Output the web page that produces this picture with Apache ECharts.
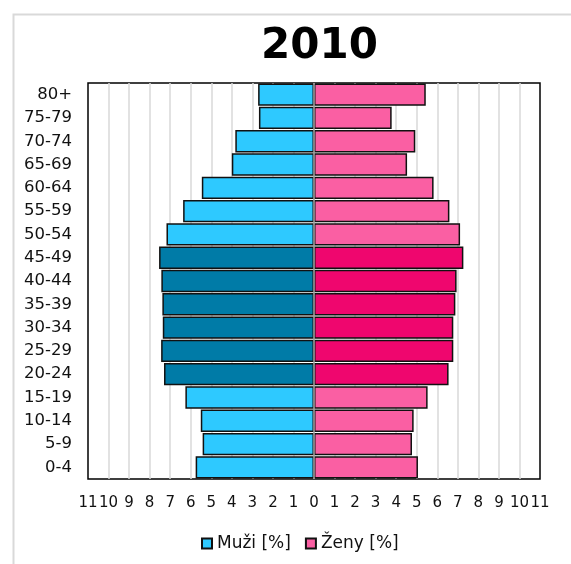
<!DOCTYPE html>
<html>
<head>
<meta charset="utf-8">
<script src="https://cdn.jsdelivr.net/npm/echarts@6/dist/echarts.min.js"></script>
<style>html,body{margin:0;padding:0;background:#fff}#c{width:571px;height:564px}</style>
</head>
<body>
<div id="c"></div>
<script>
var titleText = '2010';
var categories = ['0-4','5-9','10-14','15-19','20-24','25-29','30-34','35-39','40-44','45-49','50-54','55-59','60-64','65-69','70-74','75-79','80+'];
var men = [5.76,5.42,5.51,6.26,7.30,7.44,7.36,7.38,7.43,7.54,7.18,6.37,5.46,4.00,3.83,2.68,2.72];
var women = [5.06,4.77,4.85,5.53,6.55,6.78,6.78,6.88,6.94,7.27,7.11,6.59,5.82,4.53,4.93,3.78,5.44];
var highlighted = ['20-24','25-29','30-34','35-39','40-44','45-49'];
var seriesNames = ['Muži [%]','Ženy [%]'];
var axisMax = 11;

var FONT = 'DejaVu Sans';
var menLight = '#2EC9FF', menDark = '#007BA7';
var womenLight = '#FA5FA3', womenDark = '#EF066E';

function build(vals, sign, light, dark){
  return vals.map(function(v,i){
    var hi = highlighted.indexOf(categories[i]) >= 0;
    return {value: sign*v, itemStyle:{color: hi ? dark : light}};
  });
}

var chart = echarts.init(document.getElementById('c'), null, {renderer:'canvas'});
chart.setOption({
  animation:false,
  backgroundColor:'#fff',
  graphic:[{type:'rect', left:11, top:12, z:-10, silent:true,
    shape:{width:700,height:700}, style:{fill:'none', stroke:'#d9d9d9', lineWidth:2}}],
  title:{text:titleText, left:256, top:21,
    textStyle:{fontFamily:FONT, fontWeight:'bold', fontSize:42, color:'#000'}},
  legend:{data:seriesNames, left:196, top:530, icon:'rect', itemWidth:10, itemHeight:10, itemGap:14,
    textStyle:{fontFamily:FONT, fontSize:17, color:'#111'}},
  grid:{left:88, right:31, top:83, bottom:85, show:true, borderColor:'#000', borderWidth:1.5, containLabel:false},
  xAxis:{type:'value', min:-axisMax, max:axisMax, interval:1,
    axisLine:{show:false}, axisTick:{show:false},
    axisLabel:{fontFamily:FONT, fontSize:15, color:'#111', margin:17,
      formatter:function(v){return String(Math.abs(v));}},
    splitLine:{show:true, showMinLine:false, showMaxLine:false, lineStyle:{color:'#d9d9d9', width:1.5}}},
  yAxis:{type:'category', data:categories,
    axisLine:{show:false}, axisTick:{show:false},
    axisLabel:{fontFamily:FONT, fontSize:16.5, color:'#111', margin:16}},
  series:[
    {name:seriesNames[0], type:'bar', stack:'p', barCategoryGap:'4%', color:menLight,
     itemStyle:{color:menLight, borderColor:'#111', borderWidth:1.5},
     data:build(men,-1,menLight,menDark),
     markLine:{silent:true, symbol:'none', label:{show:false},
       lineStyle:{color:'#a6a6a6', width:1.5, type:'solid'}, data:[{xAxis:0}]}},
    {name:seriesNames[1], type:'bar', stack:'p', barCategoryGap:'4%', color:womenLight,
     itemStyle:{color:womenLight, borderColor:'#111', borderWidth:1.5},
     data:build(women,1,womenLight,womenDark)}
  ]
});
</script>
</body>
</html>
